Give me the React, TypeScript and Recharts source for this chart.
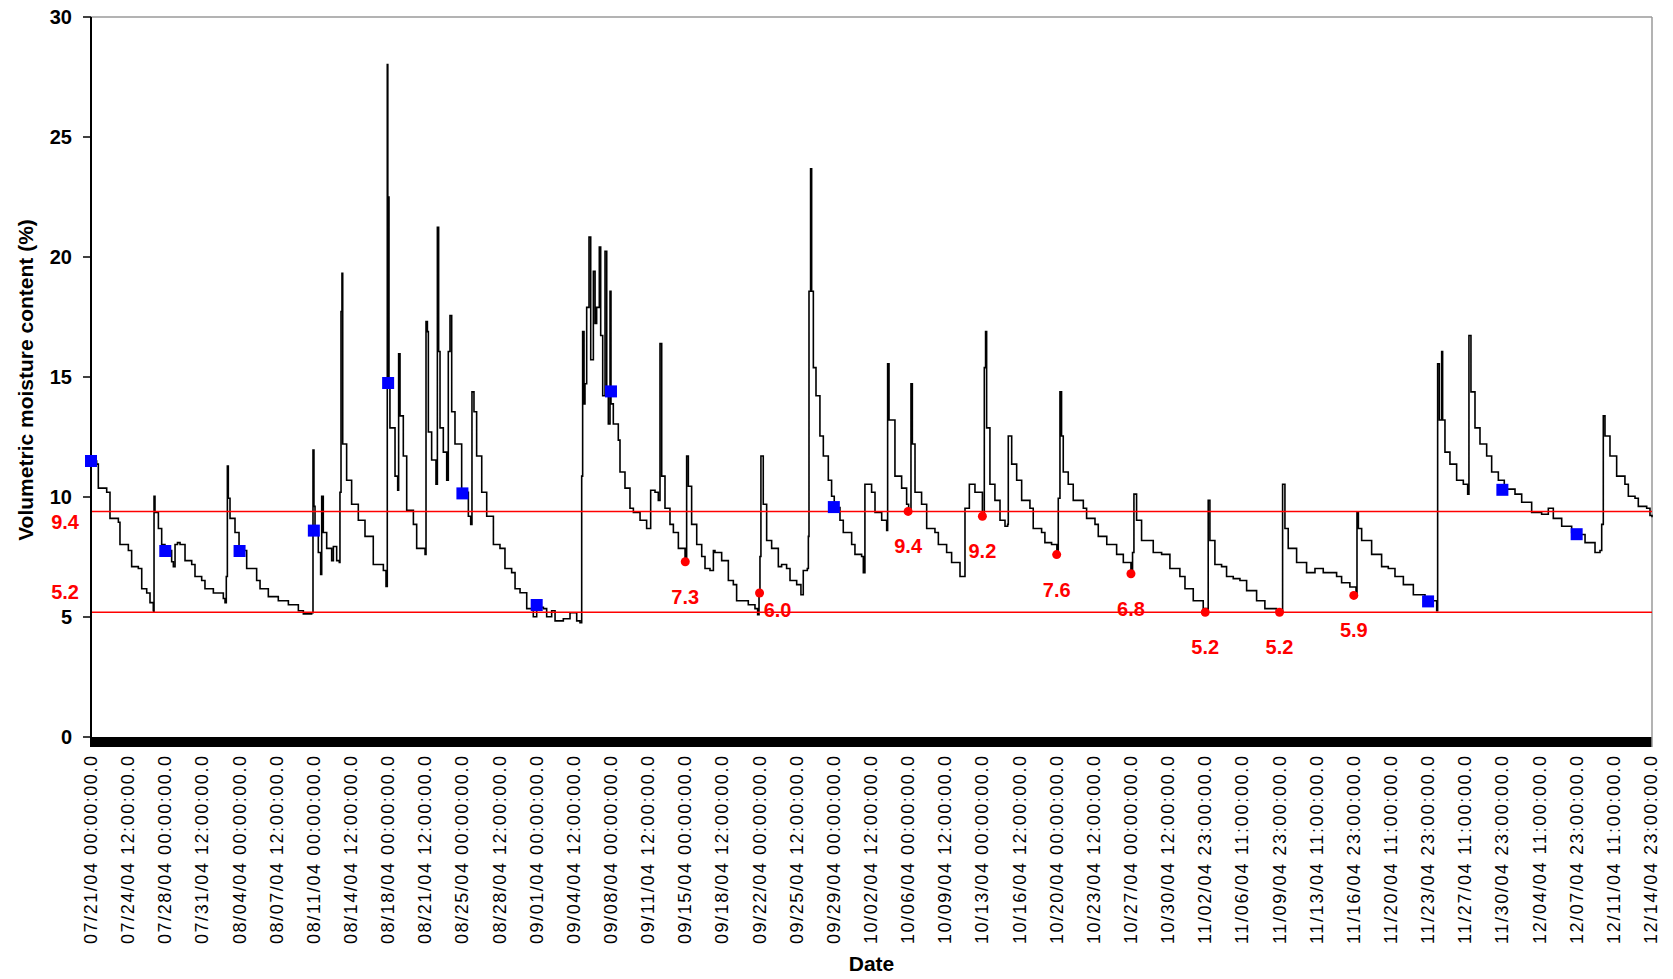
import React from 'react';
import { ComposedChart, Line, Scatter, XAxis, YAxis, ReferenceLine, ReferenceArea, LabelList } from 'recharts';

// ---- Data ----
const DAYS: number[] = [
  0, 0.53, 0.69, 1.48, 1.79, 2.58, 2.73, 3.52, 3.83, 4.46, 4.78, 5.25, 5.56, 5.87, 5.92, 5.94, 6.03, 6.35, 6.66, 6.97,
  7.6, 7.76, 7.92, 8.15, 8.39, 8.86, 9.49, 9.8, 10.43, 10.74, 11.53, 12.47, 12.63, 12.75, 12.85, 12.94, 13.1, 13.57, 13.95,
  14.67, 15.61, 15.93, 16.71, 17.65, 18.6, 19.54, 20.01, 20.79, 20.92, 21.01, 21.11, 21.42, 21.64, 21.74, 21.89, 22.21,
  22.68, 22.84, 23.15, 23.4, 23.46, 23.56, 23.65, 23.72, 24.09, 24.56, 25.19, 25.82, 26.6, 27.55, 27.8, 27.92, 27.97,
  28.02, 28.08, 28.17, 28.65, 28.9, 28.99, 29.12, 29.43, 29.75, 30.38, 30.69, 31.48, 31.57, 31.7, 31.79, 32.1, 32.51,
  32.64, 32.76, 32.89, 33.2, 33.52, 33.67, 33.83, 33.99, 34.3, 34.93, 35.56, 35.78, 35.9, 36.09, 36.34, 36.82, 37.29,
  37.92, 38.54, 39.01, 39.64, 39.96, 40.43, 41.06, 41.68, 42.0, 42.63, 42.94, 43.41, 43.73, 44.51, 45.14, 45.77, 46.08,
  46.24, 46.33, 46.46, 46.55, 46.71, 46.93, 47.09, 47.34, 47.5, 47.65, 47.9, 48.03, 48.22, 48.44, 48.6, 48.75, 48.91,
  49.0, 49.22, 49.69, 49.85, 50.32, 50.79, 51.11, 51.74, 52.36, 52.68, 52.74, 53.15, 53.46, 53.62, 53.78, 54.09, 54.56,
  54.88, 55.35, 55.98, 56.05, 56.13, 56.29, 56.6, 57.08, 57.55, 57.86, 58.33, 58.65, 58.8, 59.43, 60.06, 60.53, 60.84,
  61.94, 62.57, 62.82, 62.95, 63.04, 63.13, 63.35, 63.67, 64.14, 64.77, 65.08, 65.55, 65.87, 66.5, 66.9, 67.12, 67.5,
  67.6, 67.66, 67.81, 67.91, 68.07, 68.32, 68.69, 69.01, 69.48, 69.79, 70.04, 70.58, 70.89, 71.68, 71.99, 72.62, 72.78,
  72.93, 73.56, 73.88, 74.51, 74.98, 75.07, 75.2, 75.76, 76.39, 76.86, 77.05, 77.27, 77.4, 77.65, 78.27, 78.75, 79.53,
  79.85, 80.63, 81.1, 81.89, 82.3, 82.36, 82.77, 83.3, 84.0, 84.18, 84.3, 84.4, 84.71, 85.18, 85.66, 86.13, 86.38, 86.44,
  86.76, 87.23, 87.7, 88.48, 88.79, 89.58, 89.89, 90.52, 91.02, 91.15, 91.31, 91.46, 91.62, 92.09, 92.56, 93.51, 93.82,
  94.61, 94.92, 95.72, 96.65, 97.28, 98.0, 98.15, 98.28, 98.53, 99.0, 100.1, 100.89, 101.67, 102.61, 103.09, 103.87,
  104.81, 105.22, 105.28, 105.44, 105.91, 106.54, 107.01, 107.64, 108.27, 108.9, 109.84, 110.62, 111.72, 112.19, 112.29,
  112.51, 112.82, 113.61, 114.55, 115.34, 116.12, 117.38, 117.85, 118.63, 119.21, 119.3, 119.43, 119.74, 120.68, 121.62,
  122.25, 122.88, 123.67, 124.61, 125.71, 126.24, 126.81, 126.9, 127.06, 127.28, 127.37, 127.59, 128.06, 128.69, 129.32,
  129.73, 129.85, 130.04, 130.42, 130.89, 131.52, 131.99, 132.62, 133.18, 134.19, 134.82, 135.76, 136.7, 137.33, 137.8,
  138.59, 139.53, 140.16, 140.79, 141.73, 142.2, 142.36, 142.51, 142.67, 143.14, 143.77, 144.55, 144.87, 145.5, 145.81,
  146.6, 146.91, 147.1,
];

const MOISTURE: number[] = [
  11.5, 11.37, 10.37, 10.2, 9.11, 8.95, 8.02, 7.77, 7.1, 7.02, 6.18, 6.0, 5.6, 5.26, 5.2, 10.03, 9.36, 8.69, 8.02, 7.77,
  7.3, 7.1, 8.02, 8.1, 8.02, 7.35, 7.19, 6.69, 6.52, 6.18, 6.0, 5.77, 5.6, 6.69, 11.29, 9.95, 9.11, 8.52, 7.77,
  7.02, 6.52, 6.18, 5.85, 5.68, 5.51, 5.26, 5.13, 5.18, 11.96, 9.61, 8.52, 7.69, 6.77, 10.03, 8.52, 7.86,
  7.35, 7.94, 7.35, 7.27, 10.2, 17.73, 19.32, 12.21, 10.7, 9.7, 9.03, 8.36, 7.19, 6.94, 6.27, 28.02, 14.8,
  22.5, 14.7, 12.88, 10.87, 10.28, 15.97, 13.38, 11.71, 9.45, 8.86, 7.86, 7.61, 17.31, 16.89, 12.71, 11.54, 10.53,
  21.24, 16.06, 12.88, 11.87, 10.7, 16.06, 17.56, 13.55, 12.21, 10.2, 9.2, 8.86, 14.38, 13.55, 11.71, 10.2, 9.2,
  8.02, 7.86, 7.02, 6.85, 6.18, 6.01, 5.35, 5.01, 5.4, 5.35, 5.01, 5.26, 4.84, 4.93, 5.18, 4.84, 4.76,
  10.87, 16.89, 13.88, 14.72, 17.9, 20.83, 15.72, 19.4, 17.23, 17.9, 20.41, 16.73, 14.22, 20.24, 14.38, 13.04, 18.57,
  13.88, 13.04, 12.37, 11.04, 10.37, 9.53, 9.36, 9.03, 8.69, 8.69, 10.28, 10.2, 9.86, 16.39, 10.87, 9.53, 8.86,
  8.52, 7.86, 7.35, 7.25, 11.71, 10.45, 8.86, 8.02, 7.52, 7.02, 6.94, 7.77, 7.69, 7.35, 6.52, 6.35, 5.68,
  5.51, 5.35, 5.1, 6.02, 7.52, 11.71, 9.7, 8.19, 7.86, 7.1, 7.19, 7.02, 6.52, 6.35, 5.93, 6.94, 7.02,
  8.36, 18.57, 23.67, 18.57, 15.39, 14.22, 12.54, 11.71, 10.7, 10.03, 9.56, 9.03, 8.52, 8.02, 7.61, 7.52, 6.85,
  10.53, 10.2, 9.36, 9.03, 8.61, 15.55, 13.21, 10.87, 10.37, 9.7, 9.36, 14.72, 12.21, 10.2, 9.7, 8.69, 8.52,
  8.02, 7.69, 7.27, 6.69, 6.69, 9.53, 10.53, 10.2, 9.25, 15.39, 16.89, 12.88, 10.53, 9.86, 9.03, 8.78, 8.86, 12.54,
  11.37, 10.7, 9.86, 9.53, 8.69, 8.52, 8.1, 8.02, 7.66, 9.95, 14.38, 12.54, 11.04, 10.53, 9.86, 9.53, 9.11,
  8.86, 8.36, 8.02, 7.61, 7.27, 6.82, 7.69, 10.12, 9.03, 8.19, 7.69, 7.61, 7.02, 6.69, 6.18, 5.68,
  5.35, 5.2, 9.86, 8.19, 7.19, 7.1, 6.69, 6.6, 6.52, 6.1, 5.68, 5.35, 5.26, 5.2, 10.53,
  8.69, 7.86, 7.27, 6.85, 7.02, 6.85, 6.69, 6.43, 6.25, 5.93, 9.36, 8.69, 8.19, 7.61, 7.1,
  7.02, 6.69, 6.35, 5.93, 5.77, 5.68, 5.26, 15.55, 13.21, 16.06, 13.21, 11.87, 11.37, 10.7, 10.53,
  10.12, 16.73, 14.38, 12.88, 12.21, 11.71, 11.04, 10.7, 10.33, 10.12, 9.78, 9.36, 9.28, 9.53, 9.11,
  8.78, 8.52, 8.44, 8.1, 7.69, 7.77, 8.86, 13.38, 12.54, 11.71, 10.87, 10.53, 10.03, 9.95, 9.61,
  9.53, 9.23, 9.16,
];

const BLUE_DAYS: number[] = [0, 7, 14, 21, 28, 35, 42, 49, 70, 126, 133, 140];
const BLUE_VALUES: number[] = [11.5, 7.75, 7.75, 8.6, 14.75, 10.15, 5.5, 14.4, 9.58, 5.65, 10.3, 8.45];

const RED_DAYS: number[] = [56, 63, 77, 84, 91, 98, 105, 112, 119];
const RED_VALUES: number[] = [7.3, 6.0, 9.4, 9.2, 7.6, 6.8, 5.2, 5.2, 5.9];
const RED_LABELS: string[] = ['7.3', '6.0', '9.4', '9.2', '7.6', '6.8', '5.2', '5.2', '5.9'];

const THRESHOLDS: number[] = [9.4, 5.2];
const THRESHOLD_LABELS: string[] = ['9.4', '5.2'];

const Y_TICKS: number[] = [0, 5, 10, 15, 20, 25, 30];

const TICK_LABELS: string[] = [
  '07/21/04 00:00:00.0', '07/24/04 12:00:00.0', '07/28/04 00:00:00.0', '07/31/04 12:00:00.0',
  '08/04/04 00:00:00.0', '08/07/04 12:00:00.0', '08/11/04 00:00:00.0', '08/14/04 12:00:00.0',
  '08/18/04 00:00:00.0', '08/21/04 12:00:00.0', '08/25/04 00:00:00.0', '08/28/04 12:00:00.0',
  '09/01/04 00:00:00.0', '09/04/04 12:00:00.0', '09/08/04 00:00:00.0', '09/11/04 12:00:00.0',
  '09/15/04 00:00:00.0', '09/18/04 12:00:00.0', '09/22/04 00:00:00.0', '09/25/04 12:00:00.0',
  '09/29/04 00:00:00.0', '10/02/04 12:00:00.0', '10/06/04 00:00:00.0', '10/09/04 12:00:00.0',
  '10/13/04 00:00:00.0', '10/16/04 12:00:00.0', '10/20/04 00:00:00.0', '10/23/04 12:00:00.0',
  '10/27/04 00:00:00.0', '10/30/04 12:00:00.0', '11/02/04 23:00:00.0', '11/06/04 11:00:00.0',
  '11/09/04 23:00:00.0', '11/13/04 11:00:00.0', '11/16/04 23:00:00.0', '11/20/04 11:00:00.0',
  '11/23/04 23:00:00.0', '11/27/04 11:00:00.0', '11/30/04 23:00:00.0', '12/04/04 11:00:00.0',
  '12/07/04 23:00:00.0', '12/11/04 11:00:00.0', '12/14/04 23:00:00.0',
];
const TICK_STEP_DAYS = 3.5;
const X_MAX = 147.1;
const Y_MIN = -0.4167;

// ---- Build tables for the library ----
const seriesData = DAYS.map((d, i) => ({ d, v: MOISTURE[i] }));
const blueData = BLUE_DAYS.map((d, i) => ({ d, v: BLUE_VALUES[i] }));
const redData = RED_DAYS.map((d, i) => ({ d, v: RED_VALUES[i], label: RED_LABELS[i] }));
const xTicks = TICK_LABELS.map((_, i) => i * TICK_STEP_DAYS);

const FONT = '"Liberation Sans", Arial, Helvetica, sans-serif';

const XTick = (props: any) => {
  const { x, y, index } = props;
  return (
    <text
      transform={`translate(${x + 6},${y + 9}) rotate(-90)`}
      textAnchor="end"
      fontSize={18}
      fontFamily={FONT}
      fill="#000"
      textLength={188}
      lengthAdjust="spacing"
    >
      {TICK_LABELS[index]}
    </text>
  );
};

const BlueSquare = (props: any) => {
  const { cx, cy } = props;
  return <rect x={cx - 6} y={cy - 6} width={12} height={12} fill="#0000FF" />;
};

const RedDot = (props: any) => {
  const { cx, cy } = props;
  return <circle cx={cx} cy={cy} r={4.5} fill="#FF0000" />;
};

const RedLabel = (props: any) => {
  const { x, y, width, height, value, index } = props;
  const cx = x + (width || 0) / 2;
  const cy = y + (height || 0) / 2;
  const special = index === 1;
  return (
    <text
      x={special ? cx + 18 : cx}
      y={special ? cy + 17 : cy + 35}
      textAnchor="middle"
      dominantBaseline="central"
      fontSize={20}
      fontWeight="bold"
      fontFamily={FONT}
      fill="#FF0000"
    >
      {value}
    </text>
  );
};

const thresholdLabel = (text: string, dy: number) => (props: any) => {
  const { viewBox } = props;
  return (
    <text
      x={viewBox.x - 12}
      y={viewBox.y + dy}
      textAnchor="end"
      dominantBaseline="central"
      fontSize={20}
      fontWeight="bold"
      fontFamily={FONT}
      fill="#FF0000"
    >
      {text}
    </text>
  );
};

const yTitle = (props: any) => {
  const { viewBox } = props;
  const cx = viewBox.x + 17;
  const cy = viewBox.y + viewBox.height / 2 - 2;
  return (
    <text
      transform={`translate(${cx},${cy}) rotate(-90)`}
      textAnchor="middle"
      dominantBaseline="central"
      fontSize={21}
      fontWeight="bold"
      fontFamily={FONT}
      fill="#000"
    >
      Volumetric moisture content (%)
    </text>
  );
};

const xTitle = (props: any) => {
  const { viewBox } = props;
  return (
    <text
      x={viewBox.x + viewBox.width / 2}
      y={viewBox.y + 216}
      textAnchor="middle"
      dominantBaseline="central"
      fontSize={21}
      fontWeight="bold"
      fontFamily={FONT}
      fill="#000"
    >
      Date
    </text>
  );
};

export default function App() {
  return (
    <div style={{ position: 'absolute', left: 0, top: 0, width: 1673, height: 979, background: '#fff' }}>
      <ComposedChart
        width={1668}
        height={979}
        margin={{ top: 17, right: 16, bottom: 0, left: 8 }}
      >
        <XAxis
          type="number"
          dataKey="d"
          domain={[0, X_MAX]}
          ticks={xTicks}
          interval={0}
          tick={<XTick />}
          tickLine={false}
          axisLine={false}
          tickSize={0}
          tickMargin={0}
          height={232}
          label={xTitle}
        />
        <YAxis
          type="number"
          dataKey="v"
          domain={[Y_MIN, 30]}
          ticks={Y_TICKS}
          interval={0}
          width={83}
          axisLine={{ stroke: '#000', strokeWidth: 2 }}
          tickLine={{ stroke: '#000', strokeWidth: 1.5 }}
          tickSize={8}
          tickMargin={11}
          tick={{ fontSize: 20, fontWeight: 'bold', fontFamily: FONT, fill: '#000' }}
          label={yTitle}
        />
        <ReferenceArea x1={0} x2={X_MAX} y1={Y_MIN} y2={0} fill="#000" fillOpacity={1} stroke="none" />
        <ReferenceLine y={30} stroke="#9a9a9a" strokeWidth={1.5} />
        <ReferenceLine x={X_MAX} stroke="#9a9a9a" strokeWidth={1.5} />
        <Line
          data={seriesData}
          dataKey="v"
          type="stepAfter"
          stroke="#000"
          strokeWidth={1.6}
          dot={false}
          activeDot={false}
          isAnimationActive={false}
        />
        {THRESHOLDS.map((t, i) => (
          <ReferenceLine
            key={t}
            y={t}
            stroke="#FF0000"
            strokeWidth={1.5}
            label={thresholdLabel(THRESHOLD_LABELS[i], i === 0 ? 11 : -20)}
          />
        ))}
        <Scatter data={blueData} dataKey="v" shape={<BlueSquare />} isAnimationActive={false} />
        <Scatter data={redData} dataKey="v" shape={<RedDot />} isAnimationActive={false}>
          <LabelList dataKey="label" content={<RedLabel />} />
        </Scatter>
      </ComposedChart>
    </div>
  );
}
